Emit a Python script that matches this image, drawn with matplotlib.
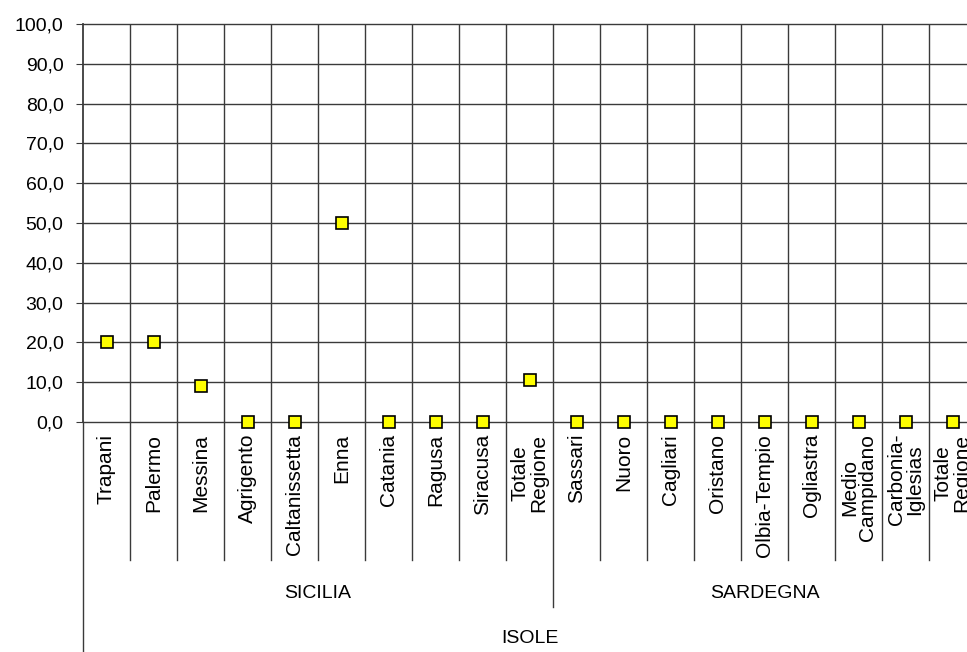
import matplotlib
matplotlib.use("Agg")
import matplotlib.pyplot as plt
import numpy as np

plt.rcParams['font.family'] = ['Liberation Sans', 'DejaVu Sans']

sicilia = ["Trapani", "Palermo", "Messina", "Agrigento", "Caltanissetta", "Enna",
           "Catania", "Ragusa", "Siracusa", "Totale\nRegione"]
sardegna = ["Sassari", "Nuoro", "Cagliari", "Oristano", "Olbia-Tempio", "Ogliastra",
            "Medio\nCampidano", "Carbonia-\nIglesias", "Totale\nRegione"]
val_sicilia = [20.0, 20.0, 9.1, 0.0, 0.0, 50.0, 0.0, 0.0, 0.0, 10.6]
val_sardegna = [0.0, 0.0, 0.0, 0.0, 0.0, 0.0, 0.0, 0.0, 0.0]
gruppi = ["SICILIA", "SARDEGNA"]
macro = "ISOLE"

labels = sicilia + sardegna
values = val_sicilia + val_sardegna
n = len(labels)
x = np.arange(n)

fig = plt.figure(figsize=(9.67, 6.52), dpi=100)
ax = fig.add_axes([83 / 967, 230 / 652, 893 / 967, 398 / 652])

gc = '#3a3a3a'
ax.set_xlim(-0.5, n - 0.5)
ax.set_ylim(0, 100)
yt = np.arange(0, 101, 10)
ax.set_yticks(yt)
ax.set_yticklabels([("%.1f" % v).replace('.', ',') for v in yt], fontsize=14)
for v in yt:
    ax.axhline(v, color=gc, lw=1.0, zorder=1, clip_on=False)
for b in np.arange(0.5, n - 0.5, 1):
    ax.axvline(b, color=gc, lw=1.0, zorder=1)
    # prolunga nella zona delle etichette
    yb = -0.465 if b == len(sicilia) - 0.5 else -0.347
    ax.plot([b, b], [0, yb], color=gc, lw=1.0, transform=ax.get_xaxis_transform(), clip_on=False)
ax.plot([-0.5, -0.5], [0, -0.585], color=gc, lw=1.0, transform=ax.get_xaxis_transform(), clip_on=False)

for s in ['top', 'right', 'bottom']:
    ax.spines[s].set_visible(False)
ax.spines['left'].set_color(gc)
ax.spines['left'].set_linewidth(1.3)
ax.tick_params(axis='y', length=5, color=gc, pad=9)
ax.tick_params(axis='x', length=0)
ax.set_xticks([])

ax.plot(x, values, ls='none', marker='s', ms=8.5, mfc='#ffff00', mec='black', mew=1.2,
        zorder=5, clip_on=False)

for i, lab in enumerate(labels):
    ax.text(i, -0.03, lab, rotation=90, ha='center', va='top', fontsize=15,
            transform=ax.get_xaxis_transform(), linespacing=0.95, multialignment='center')

ns = len(sicilia)
ax.text((ns - 1) / 2, -0.43, gruppi[0], ha='center', va='center', fontsize=14,
        transform=ax.get_xaxis_transform())
ax.text(ns + (len(sardegna) - 1) / 2, -0.43, gruppi[1], ha='center', va='center', fontsize=14,
        transform=ax.get_xaxis_transform())
ax.text((n - 1) / 2, -0.545, macro, ha='center', va='center', fontsize=14,
        transform=ax.get_xaxis_transform())

fig.savefig("out.png", dpi=100)
